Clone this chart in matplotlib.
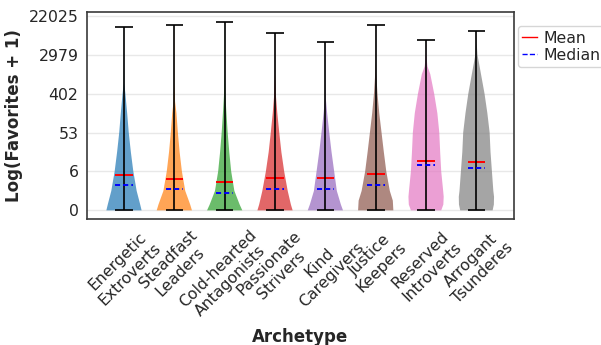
import matplotlib
matplotlib.use("Agg")
import matplotlib.pyplot as plt
from matplotlib.lines import Line2D
import numpy as np

# Archetypes on the x axis
archetypes = ["Energetic\nExtroverts", "Steadfast\nLeaders", "Cold-hearted\nAntagonists",
              "Passionate\nStrivers", "Kind\nCaregivers", "Justice\nKeepers",
              "Reserved\nIntroverts", "Arrogant\nTsunderes"]

# summary stats on log(favorites + 1)
means = [1.82, 1.59, 1.47, 1.66, 1.66, 1.89, 2.55, 2.47]
medians = [1.29, 1.11, 0.87, 1.11, 1.11, 1.29, 2.31, 2.18]
mins = [0, 0, 0, 0, 0, 0, 0, 0]
maxes = [9.44, 9.53, 9.70, 9.13, 8.64, 9.55, 8.74, 9.24]

# density profiles (level, relative width)
profile_y = [
    [0, 0.3, 1, 2, 3, 4, 5, 6, 6.5, 7.5, 9.44],
    [0, 0.3, 1, 2, 3, 4, 5, 5.6, 6.5, 9.53],
    [0, 0.3, 1, 2, 3, 4, 5, 5.9, 7, 9.70],
    [0, 0.3, 1, 2, 3, 4, 5, 5.9, 7, 9.13],
    [0, 0.3, 1, 2, 3, 4, 5, 5.8, 7, 8.64],
    [0, 0.5, 1, 2, 3, 4, 5, 6, 7, 7.6, 9.55],
    [0, 0.3, 0.7, 1.1, 2, 3, 4, 5, 6, 7, 7.4, 8, 8.74],
    [0, 0.3, 0.7, 1, 2, 3, 4, 5, 6, 7, 8, 8.6, 9.24],
]
profile_w = [
    [1.0, 0.92, 0.72, 0.53, 0.39, 0.27, 0.18, 0.08, 0.02, 0.008, 0.004],
    [1.0, 0.9, 0.62, 0.43, 0.3, 0.2, 0.12, 0.04, 0.01, 0.004],
    [1.0, 0.85, 0.55, 0.37, 0.26, 0.17, 0.1, 0.04, 0.01, 0.004],
    [1.0, 0.9, 0.72, 0.52, 0.36, 0.24, 0.13, 0.05, 0.01, 0.004],
    [1.0, 0.88, 0.65, 0.5, 0.35, 0.22, 0.1, 0.02, 0.008, 0.004],
    [1.0, 0.97, 0.8, 0.6, 0.46, 0.33, 0.2, 0.1, 0.03, 0.01, 0.004],
    [0.86, 0.98, 1.0, 0.96, 0.86, 0.8, 0.75, 0.64, 0.46, 0.24, 0.08, 0.01, 0.004],
    [0.92, 0.99, 1.0, 0.96, 0.88, 0.8, 0.75, 0.62, 0.46, 0.26, 0.06, 0.015, 0.004],
]

yticks = [0, 2, 4, 6, 8, 10]

colors = plt.cm.tab10.colors[:len(archetypes)]
positions = np.arange(1, len(archetypes) + 1)

vpstats = []
for i in range(len(archetypes)):
    vpstats.append({
        "coords": np.array(profile_y[i]),
        "vals": np.array(profile_w[i]),
        "mean": means[i],
        "median": medians[i],
        "min": mins[i],
        "max": maxes[i],
    })

fig = plt.figure(figsize=(6.01, 3.45), dpi=100)
ax = fig.add_axes([0.1443, 0.3643, 0.7104, 0.6])

ax.grid(axis="y", color="#e8e8e8", linewidth=1.0, zorder=0)
ax.set_axisbelow(True)

parts = ax.violin(vpstats, positions=positions, widths=0.7,
                  showmeans=True, showmedians=True, showextrema=True)
for body, c in zip(parts["bodies"], colors):
    body.set_facecolor(c)
    body.set_edgecolor("none")
    body.set_alpha(0.7)
for key in ["cbars", "cmins", "cmaxes"]:
    parts[key].set_color("black")
    parts[key].set_linewidth(1.2)
parts["cmeans"].set_color("red")
parts["cmeans"].set_linewidth(1.4)
parts["cmedians"].set_color("blue")
parts["cmedians"].set_linewidth(1.4)
parts["cmedians"].set_linestyle((0, (2.6, 1.6)))

ax.set_xlim(0.26, 8.74)
ax.set_ylim(-0.46, 10.18)
ax.set_yticks(yticks)
ax.set_yticklabels([str(int(np.expm1(t))) for t in yticks], fontsize=11.3, color="#262626")
ax.set_xticks(positions)
ax.set_xticklabels(archetypes, rotation=45, fontsize=11.3, color="#262626")
ax.tick_params(length=0, pad=6)
for s in ax.spines.values():
    s.set_color("#3a3a3a")
    s.set_linewidth(1.2)

ax.set_xlabel("Archetype", fontsize=12, fontweight="bold", color="#262626")
ax.set_ylabel("Log(Favorites + 1)", fontsize=12, fontweight="bold", color="#262626")

handles = [Line2D([0], [0], color="red", lw=1),
           Line2D([0], [0], color="blue", lw=1, linestyle="--")]
leg = ax.legend(handles, ["Mean", "Median"], loc="upper left", bbox_to_anchor=(1.0094, 0.934),
                borderaxespad=0, fontsize=11.3, handlelength=0.9, handletextpad=0.42,
                labelspacing=0.12, borderpad=0.3)
for t in leg.get_texts():
    t.set_color("#262626")

fig.savefig("out.png", dpi=100)
